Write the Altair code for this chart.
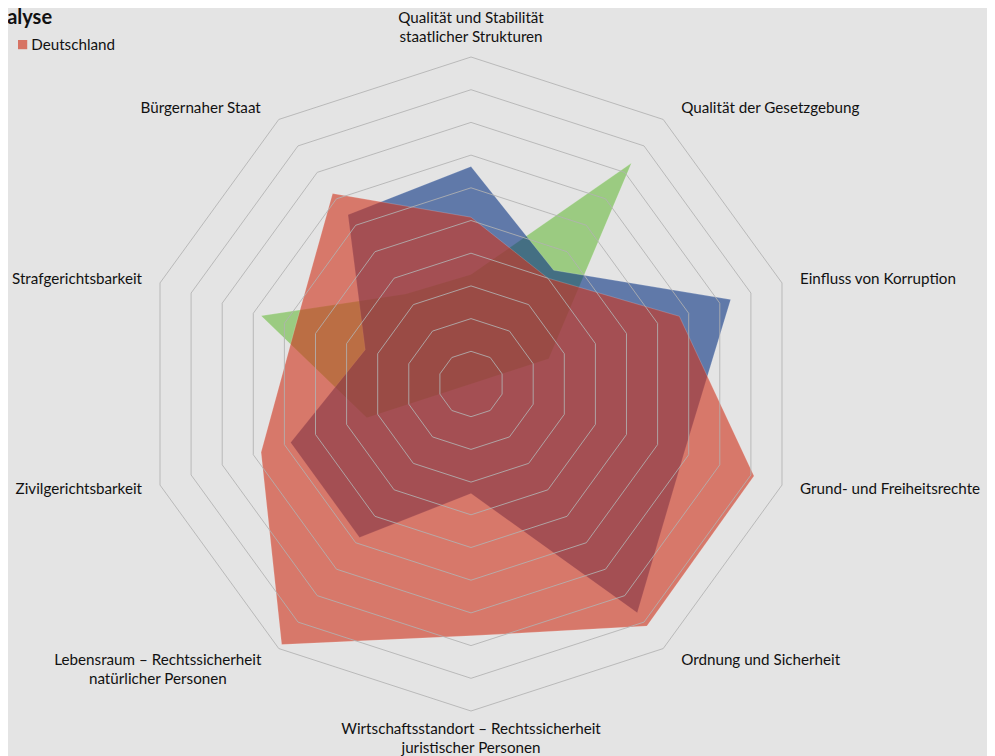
import math
import altair as alt
import pandas as pd

# ---------------- data ----------------
categories = [
    "Qualität und Stabilität\nstaatlicher Strukturen",
    "Qualität der Gesetzgebung",
    "Einfluss von Korruption",
    "Grund- und Freiheitsrechte",
    "Ordnung und Sicherheit",
    "Wirtschaftsstandort – Rechtssicherheit\njuristischer Personen",
    "Lebensraum – Rechtssicherheit\nnatürlicher Personen",
    "Zivilgerichtsbarkeit",
    "Strafgerichtsbarkeit",
    "Bürgernaher Staat",
]
series_names = ["Deutschland", "Vergleich 1", "Vergleich 2"]
deutschland = [5.1, 4.0, 6.7, 9.1, 9.15, 7.7, 9.85, 6.75, 5.65, 7.2]
vergleich_1 = [6.65, 4.3, 8.35, 6.85, 8.65, 3.35, 5.8, 5.8, 3.4, 6.4]
vergleich_2 = [3.35, 8.35, 2.5, 0, 0, 0, 0, 3.35, 6.75, 3.4]
ring_levels = [1, 2, 3, 4, 5, 6, 7, 8, 9, 10]
series_colors = ["#CF361E", "#0F3785", "#6EBC43"]

# ---------------- geometry helpers ----------------
N = len(categories)
RMAX = 10
PX = 32.7  # pixels per unit
W, H = 979, 748
CX, CY = 463.0, 376.0  # centre inside plot area (px)
x_dom = [-CX / PX, (W - CX) / PX]
y_dom = [-(H - CY) / PX, CY / PX]
FONT = "Lato"
FS = 15.2
LH = 19
CHW = 7.1  # approx. average character width at FS

def ang(i):
    return 2 * math.pi * i / N

rows = []
for name, vals in zip(series_names, [deutschland, vergleich_1, vergleich_2]):
    for i, v in enumerate(vals):
        rows.append({"series": name, "idx": i, "value": v,
                     "x": v * math.sin(ang(i)), "y": v * math.cos(ang(i))})
poly = pd.DataFrame(rows)

ring_rows = []
for k in ring_levels:
    for i in range(N):
        ring_rows.append({"ring": k, "idx": i,
                          "x": k * math.sin(ang(i)), "y": k * math.cos(ang(i))})
rings = pd.DataFrame(ring_rows)

lab_rows = []
for i, cat in enumerate(categories):
    s, c = math.sin(ang(i)), math.cos(ang(i))
    vx, vy = RMAX * s, RMAX * c
    n = cat.count("\n") + 1
    longest = max(len(t) for t in cat.split("\n"))
    if abs(s) < 0.1:
        if c > 0:
            pos = "top"
            x = vx
            y = vy + 12 / PX + (n - 1) * LH / PX
        else:
            pos = "bottom"
            x = vx
            y = vy - 11 / PX
    else:
        sign = 1 if s > 0 else -1
        x = vx + sign * 18 / PX
        y = vy + c * 14 / PX
        if n > 1:
            pos = "mid"
            x += sign * (longest * CHW / 2) / PX
        else:
            pos = "left" if s > 0 else "right"
    lab_rows.append({"label": cat, "x": x, "y": y, "pos": pos})
labels = pd.DataFrame(lab_rows)

xs = alt.Scale(domain=x_dom, nice=False, zero=False)
ys = alt.Scale(domain=y_dom, nice=False, zero=False)
X = alt.X("x:Q", scale=xs, axis=None)
Y = alt.Y("y:Q", scale=ys, axis=None)

legend = alt.Legend(values=["Deutschland"], title=None, orient="none",
                    legendX=7, legendY=29, symbolType="square", symbolSize=85,
                    symbolStrokeWidth=0, symbolOpacity=0.65, labelFont=FONT,
                    labelFontSize=FS, labelColor="#111111", labelOffset=1, padding=0)
color = alt.Color("series:N", scale=alt.Scale(domain=series_names, range=series_colors),
                  legend=legend)

def poly_layer(name):
    return alt.Chart(poly).transform_filter(alt.datum.series == name).mark_line(
        interpolate="linear-closed", filled=True, fillOpacity=0.62,
        stroke="#FFFFFF", strokeWidth=0.8, strokeOpacity=0.22
    ).encode(x=X, y=Y, color=color, order=alt.Order("idx:Q"))

ring_layer = alt.Chart(rings).mark_line(
    interpolate="linear-closed", stroke="#B2B2B2", strokeWidth=1, strokeOpacity=0.85
).encode(x=X, y=Y, detail="ring:N", order=alt.Order("idx:Q"))

def text_layer(pos, align, baseline):
    return alt.Chart(labels).transform_filter(alt.datum.pos == pos).mark_text(
        align=align, baseline=baseline, font=FONT, fontSize=FS, color="#111111",
        lineBreak="\n", lineHeight=LH
    ).encode(x=X, y=Y, text="label:N")

chart = alt.layer(
    poly_layer("Vergleich 2"),
    poly_layer("Vergleich 1"),
    poly_layer("Deutschland"),
    ring_layer,
    text_layer("left", "left", "middle"),
    text_layer("right", "right", "middle"),
    text_layer("mid", "center", "middle"),
    text_layer("top", "center", "bottom"),
    text_layer("bottom", "center", "top"),
).properties(
    width=W, height=H,
    autosize=alt.AutoSizeParams(type="none"),
    padding=0,
    background="#E4E4E4",
    title=alt.TitleParams("Analyse", anchor="start", font=FONT, fontSize=20,
                          fontWeight="bold", color="#111111", baseline="alphabetic",
                          offset=0, dy=36, dx=-26),
).configure_view(stroke=None)

chart.save("out.html", embed_options={"renderer": "svg", "actions": False})
